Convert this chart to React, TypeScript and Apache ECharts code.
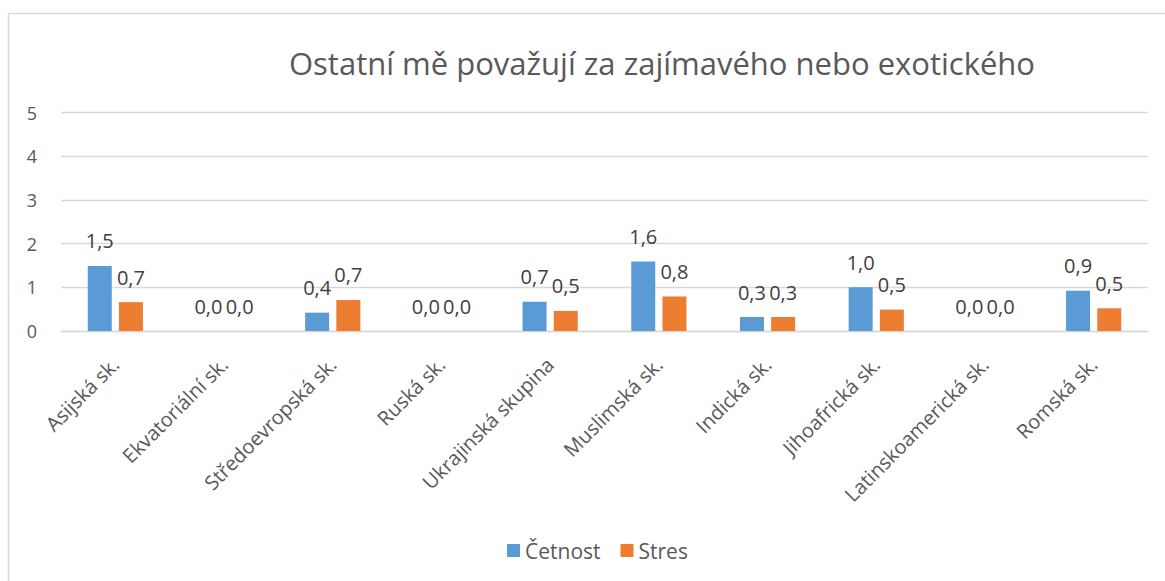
import React, { useEffect, useRef } from "react";
import * as echarts from "echarts";

const titleText = "Ostatní mě považují za zajímavého nebo exotického";
const categories = [
  "Asijská sk.",
  "Ekvatoriální sk.",
  "Středoevropská sk.",
  "Ruská sk.",
  "Ukrajinská skupina",
  "Muslimská sk.",
  "Indická sk.",
  "Jihoafrická sk.",
  "Latinskoamerická sk.",
  "Romská sk.",
];
const cetnost = [1.49, 0, 0.42, 0, 0.67, 1.59, 0.32, 1.0, 0, 0.92];
const stres = [0.66, 0, 0.71, 0, 0.46, 0.79, 0.32, 0.49, 0, 0.52];
const seriesNames = ["Četnost", "Stres"];

const FONT = "Open Sans";

export default function App() {
  const ref = useRef<HTMLDivElement>(null);
  useEffect(() => {
    if (!ref.current) return;
    const chart = echarts.init(ref.current, undefined, { renderer: "svg" });
    const fmt = (p: any) => Number(p.value).toFixed(1).replace(".", ",");
    const labelCfg = {
      show: true,
      position: "top",
      distance: 15,
      formatter: fmt,
      color: "#404040",
      fontSize: 20,
      lineHeight: 20,
      fontFamily: FONT,
    };
    chart.setOption({
      animation: false,
      backgroundColor: "#ffffff",
      title: {
        text: titleText,
        left: 662,
        textAlign: "center",
        top: 46,
        padding: 0,
        textStyle: {
          color: "#595959",
          fontSize: 31,
          lineHeight: 34,
          fontWeight: "normal",
          fontFamily: FONT,
        },
      },
      legend: {
        left: 507,
        top: 539.5,
        padding: 0,
        itemWidth: 13,
        itemHeight: 13,
        itemGap: 20,
        icon: "rect",
        textStyle: { color: "#595959", fontSize: 21, lineHeight: 22, fontFamily: FONT },
        data: seriesNames,
      },
      grid: { left: 61, right: 17, top: 112.5, bottom: 250, containLabel: false },
      xAxis: {
        type: "category",
        data: categories,
        axisLine: { lineStyle: { color: "#d9d9d9", width: 1.3 } },
        axisTick: { show: false },
        axisLabel: {
          rotate: 45,
          interval: 0,
          margin: 30,
          color: "#595959",
          fontSize: 20,
          fontFamily: FONT,
        },
      },
      yAxis: {
        type: "value",
        min: 0,
        max: 5,
        interval: 1,
        axisLine: { show: false },
        axisTick: { show: false },
        splitLine: { lineStyle: { color: "#d9d9d9", width: 1.3 } },
        axisLabel: { color: "#595959", fontSize: 18, margin: 24, fontFamily: FONT },
      },
      graphic: [
        {
          type: "rect",
          z: -1,
          shape: { x: 8.5, y: 13.5, width: 1180, height: 600 },
          style: { fill: "none", stroke: "#d9d9d9", lineWidth: 1.5 },
        },
      ],
      series: [
        {
          name: seriesNames[0],
          type: "bar",
          data: cetnost,
          barWidth: 24,
          barGap: "30%",
          itemStyle: { color: "#5B9BD5" },
          label: labelCfg,
        },
        {
          name: seriesNames[1],
          type: "bar",
          data: stres,
          barWidth: 24,
          barGap: "30%",
          itemStyle: { color: "#ED7D31" },
          label: labelCfg,
        },
      ],
    });
    return () => chart.dispose();
  }, []);
  return (
    <div
      ref={ref}
      style={{ position: "fixed", left: 0, top: 0, width: 1165, height: 581 }}
    />
  );
}
